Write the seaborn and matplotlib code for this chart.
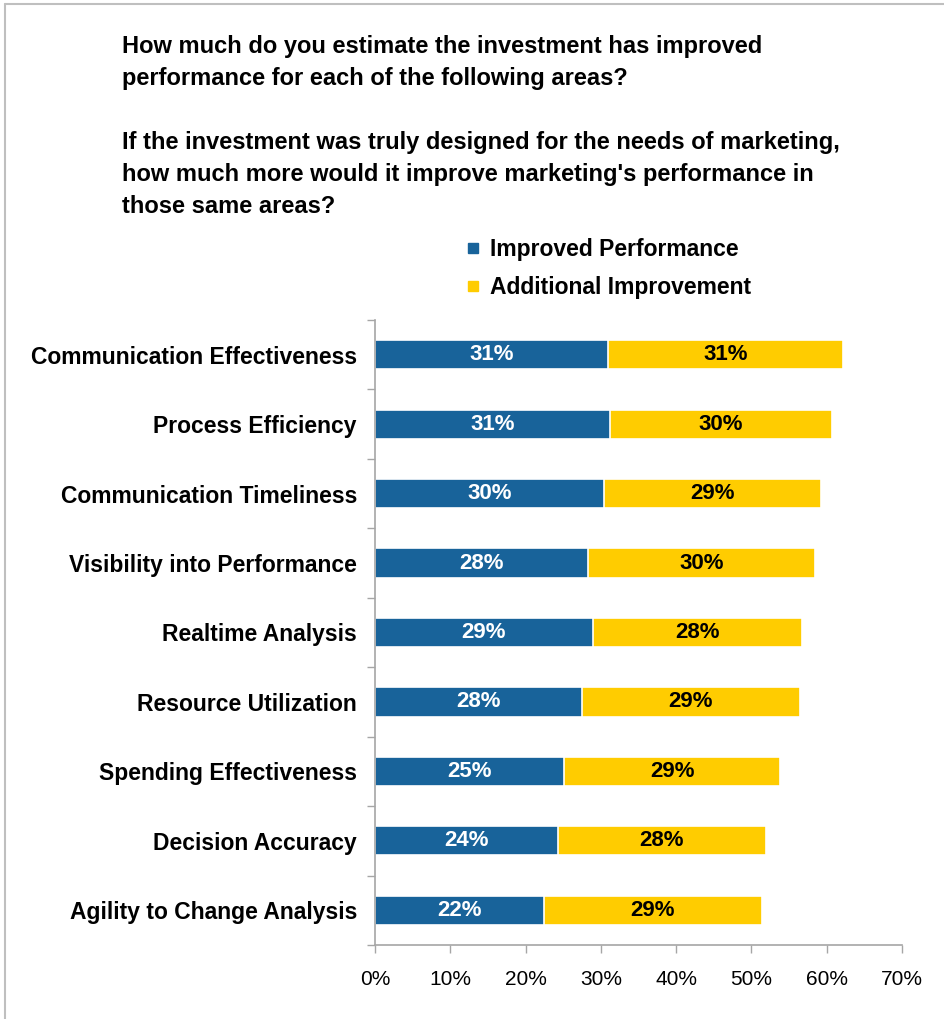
import matplotlib
matplotlib.use("Agg")
import matplotlib.pyplot as plt
from matplotlib.lines import Line2D
from matplotlib.ticker import MultipleLocator, PercentFormatter, FixedLocator
import seaborn as sns
import pandas as pd
import numpy as np

categories = [
    "Communication Effectiveness",
    "Process Efficiency",
    "Communication Timeliness",
    "Visibility into Performance",
    "Realtime Analysis",
    "Resource Utilization",
    "Spending Effectiveness",
    "Decision Accuracy",
    "Agility to Change Analysis",
]
improved = [31.0, 31.2, 30.4, 28.3, 28.9, 27.5, 25.1, 24.3, 22.4]
additional = [31.2, 29.5, 28.9, 30.2, 27.8, 28.9, 28.7, 27.6, 29.0]
series_names = ["Improved Performance", "Additional Improvement"]

title_text = (
    "How much do you estimate the investment has improved\n"
    "performance for each of the following areas?\n"
    "\n"
    "If the investment was truly designed for the needs of marketing,\n"
    "how much more would it improve marketing's performance in\n"
    "those same areas?"
)

BLUE = "#18639A"
YELLOW = "#FFCC00"
AXIS_GREY = "#A6A6A6"

sns.set_theme(style="white")
plt.rcParams["font.family"] = ["Liberation Sans", "DejaVu Sans"]
plt.rcParams["text.color"] = "black"
plt.rcParams["xtick.color"] = "black"
plt.rcParams["ytick.color"] = "black"

df = pd.DataFrame({
    "category": categories,
    "improved": improved,
    "additional": additional,
})
df["total"] = df["improved"] + df["additional"]

fig = plt.figure(figsize=(9.44, 10.19), dpi=100)
ax = fig.add_axes([375 / 944, 1 - 945 / 1019, (902 - 375) / 944, (945 - 320) / 1019])

# stacked bars: full total in yellow, improved share in blue on top
sns.barplot(data=df, y="category", x="total", color=YELLOW, width=0.42,
            edgecolor="white", linewidth=1.2, saturation=1, ax=ax, orient="h")
sns.barplot(data=df, y="category", x="improved", color=BLUE, width=0.42,
            edgecolor="white", linewidth=1.2, saturation=1, ax=ax, orient="h")

for i, (b, a) in enumerate(zip(improved, additional)):
    ax.text(b / 2, i, f"{b:.0f}%", ha="center", va="center", color="white",
            fontsize=16, fontweight="bold")
    ax.text(b + a / 2, i, f"{a:.0f}%", ha="center", va="center", color="black",
            fontsize=16, fontweight="bold")

ax.set_xlim(0, 70)
ax.set_ylim(len(categories) - 0.5, -0.5)
ax.xaxis.set_major_locator(MultipleLocator(10))
ax.xaxis.set_major_formatter(PercentFormatter(decimals=0))
ax.set_xlabel("")
ax.set_ylabel("")

ax.yaxis.set_minor_locator(FixedLocator(np.arange(-0.5, len(categories), 1.0)))
ax.tick_params(axis="y", which="major", length=0, pad=13, labelsize=16.5,
               labelcolor="black")
ax.tick_params(axis="y", which="minor", length=6, width=1, color=AXIS_GREY, left=True)
ax.tick_params(axis="x", which="major", length=6, width=1, color=AXIS_GREY,
               bottom=True, pad=12, labelsize=15, labelcolor="black")
for lbl in ax.get_yticklabels():
    lbl.set_fontweight("bold")

for side in ("top", "right"):
    ax.spines[side].set_visible(False)
for side in ("left", "bottom"):
    ax.spines[side].set_color(AXIS_GREY)
    ax.spines[side].set_linewidth(1.2)

fig.text(122 / 944, 1 - 35 / 1019, title_text, ha="left", va="top",
         fontsize=17, fontweight="bold", linespacing=1.5, color="black")

handles = [Line2D([0], [0], marker="s", linestyle="", markersize=7,
                  markerfacecolor=c, markeredgecolor=c) for c in (BLUE, YELLOW)]
fig.legend(handles, series_names, loc="upper left",
           bbox_to_anchor=(441 / 944, 1 - 217 / 1019), frameon=False,
           prop={"weight": "bold", "size": 16.5}, handletextpad=0.25,
           labelspacing=0.67, handlelength=1.0, labelcolor="black")

# chart frame edges
fig.add_artist(Line2D([5 / 944, 5 / 944], [0, 1 - 4 / 1019], transform=fig.transFigure,
                      color="#BFBFBF", linewidth=1.5))
fig.add_artist(Line2D([5 / 944, 1], [1 - 4 / 1019, 1 - 4 / 1019], transform=fig.transFigure,
                      color="#BFBFBF", linewidth=1.5))

fig.savefig("out.png", dpi=100)
